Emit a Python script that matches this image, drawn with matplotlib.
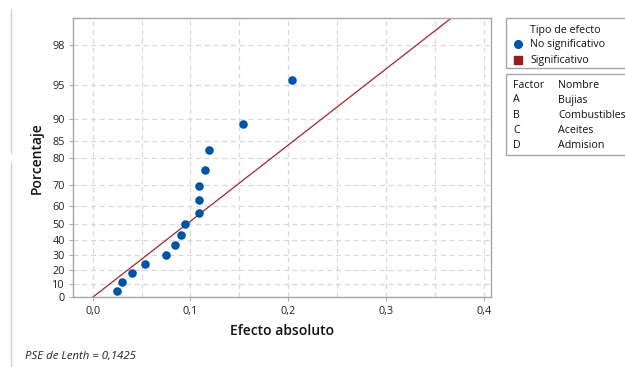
import matplotlib
matplotlib.use("Agg")
import matplotlib.pyplot as plt
from matplotlib.patches import Rectangle
from matplotlib.lines import Line2D
from statistics import NormalDist
import numpy as np

plt.rcParams['font.family'] = ['Open Sans', 'DejaVu Sans']

# Absolute effects of the 2^4 design (15 effects), sorted
efectos = [0.025, 0.030, 0.040, 0.054, 0.075, 0.084, 0.090, 0.094,
           0.109, 0.109, 0.109, 0.115, 0.119, 0.154, 0.204]
pse_lenth = 0.1425
pct_ticks = [0, 10, 20, 30, 40, 50, 60, 70, 80, 85, 90, 95, 98]
x_ticks = [0.0, 0.1, 0.2, 0.3, 0.4]
x_ticklabels = ["0,0", "0,1", "0,2", "0,3", "0,4"]
factores = ["A", "B", "C", "D"]
nombres = ["Bujias", "Combustibles", "Aceites", "Admision"]

nd = NormalDist()


def half_normal(p):
    """Half-normal score for a cumulative proportion p in [0, 1)."""
    return nd.inv_cdf(0.5 + p / 2.0)


# Benard median ranks
n = len(efectos)
scores = [half_normal((i + 1 - 0.3) / (n + 0.4)) for i in range(n)]

W, H = 625, 367
fig = plt.figure(figsize=(W / 100, H / 100), dpi=100)
ax = fig.add_axes([73 / W, 1 - 297.3 / H, (491 - 73) / W, (297.3 - 18) / H])

grid_kw = dict(color="#d9d9d9", linestyle=(0, (4, 3)), linewidth=0.9, zorder=0)
for gx in np.arange(0, 0.41, 0.05):
    ax.axvline(gx, **grid_kw)
ytick_pos = [half_normal(p / 100) for p in pct_ticks]
for gy in ytick_pos:
    ax.axhline(gy, **grid_kw)

# Lenth reference line: score = |effect| / PSE
xl = np.array([0.0, 0.42])
ax.plot(xl, xl / pse_lenth, color="#a3262a", linewidth=0.9, zorder=2)

ax.scatter(efectos, scores, s=38, color="#0054a6", zorder=3, linewidths=0)

ax.set_xlim(-0.0201, 0.4073)
ax.set_ylim(0, 2.574)
ax.set_xticks(x_ticks)
ax.set_xticklabels(x_ticklabels)
ax.set_yticks(ytick_pos)
ax.set_yticklabels([str(p) for p in pct_ticks])
ax.tick_params(axis="both", length=3, color="#b0b0b0", labelsize=7.8,
               labelcolor="#222222", pad=3)
for s in ax.spines.values():
    s.set_color("#a6a6a6")
    s.set_linewidth(1.0)

ax.set_xlabel("Efecto absoluto", fontsize=10, fontweight="semibold",
              color="#111111", labelpad=5)
ax.set_ylabel("Porcentaje", fontsize=10, fontweight="semibold",
              color="#111111", labelpad=6)

# Legend panels
box_kw = dict(transform=fig.transFigure, fill=False, edgecolor="#a6a6a6",
              linewidth=1.0)
fig.patches.append(Rectangle((506 / W, 1 - 68 / H), 140 / W, 50 / H, **box_kw))
fig.patches.append(Rectangle((506 / W, 1 - 155 / H), 140 / W, 81 / H, **box_kw))

txt_kw = dict(fontsize=7.7, color="#111111", va="center", ha="left")
fig.text(530 / W, 1 - 30 / H, "Tipo de efecto", **txt_kw)
fig.text(530 / W, 1 - 44 / H, "No significativo", **txt_kw)
fig.text(530 / W, 1 - 60 / H, "Significativo", **txt_kw)
fig.lines.append(Line2D([517.7 / W], [1 - 44 / H], marker="o", markersize=5.5,
                        color="#0054a6", linestyle="none",
                        transform=fig.transFigure))
fig.lines.append(Line2D([517.7 / W], [1 - 60 / H], marker="s", markersize=5.2,
                        color="#9b1c1f", linestyle="none",
                        transform=fig.transFigure))

fig.text(513 / W, 1 - 85 / H, "Factor", **txt_kw)
fig.text(558 / W, 1 - 85 / H, "Nombre", **txt_kw)
for k, (f, nm) in enumerate(zip(factores, nombres)):
    yy = 1 - (100 + k * 15.2) / H
    fig.text(513 / W, yy, f, **txt_kw)
    fig.text(558 / W, yy, nm, **txt_kw)

fig.text(25 / W, 1 - 357 / H, "PSE de Lenth = 0,1425", fontsize=8.2,
         fontstyle="italic", color="#222222", va="center", ha="left")

# Faint panel separator on the left margin
fig.lines.append(Line2D([10.7 / W, 10.7 / W], [1 - 10 / H, 1 - 153 / H],
                        color="#d0d0d0", linewidth=1.0, transform=fig.transFigure))
fig.lines.append(Line2D([10.7 / W, 10.7 / W], [1 - 163 / H, 0],
                        color="#d0d0d0", linewidth=1.0, transform=fig.transFigure))

fig.savefig("out.png", dpi=100, facecolor="white")
